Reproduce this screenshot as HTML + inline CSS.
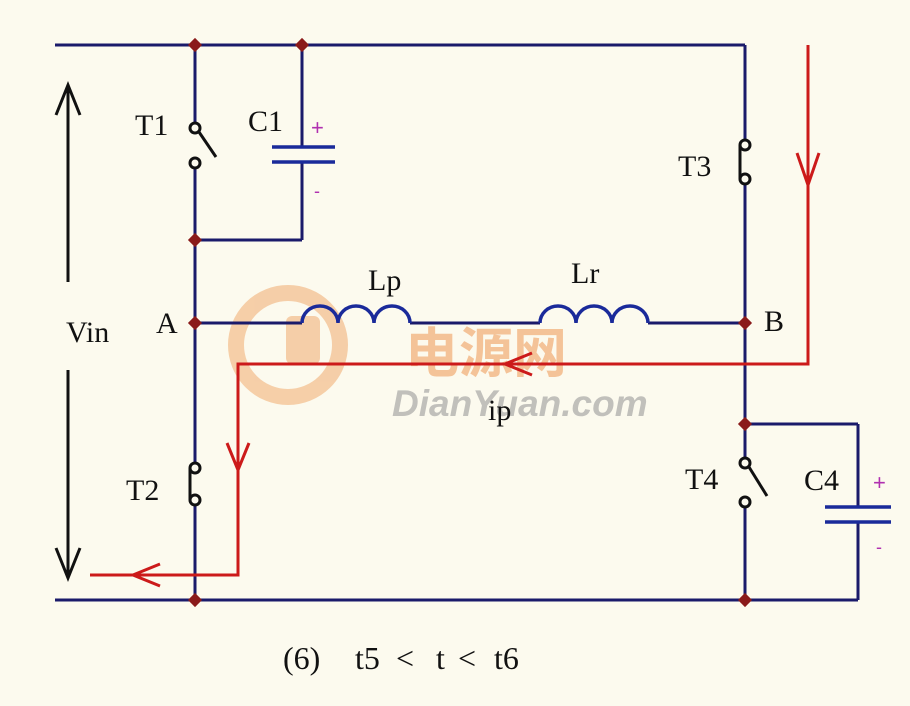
<!DOCTYPE html>
<html><head><meta charset="utf-8"><style>
html,body{margin:0;padding:0;background:#fcfaee;}
svg{display:block}
</style></head><body>
<svg width="910" height="706" viewBox="0 0 910 706" xmlns="http://www.w3.org/2000/svg">
<rect width="910" height="706" fill="#fcfaee"/>
<!-- watermark -->
<g opacity="0.6">
<circle cx="288" cy="345" r="52" fill="none" stroke="#f2b27a" stroke-width="16"/>
<rect x="286" y="316" width="34" height="48" rx="6" fill="#f2b27a"/>
<text x="405" y="372" font-family="'Noto Sans CJK SC',sans-serif" font-weight="bold" font-size="54" fill="#f0a060">电源网</text>
<text x="392" y="416" font-family="'Liberation Sans',sans-serif" font-weight="bold" font-style="italic" font-size="37" fill="#9a9a9a">DianYuan.com</text>
</g>
<g stroke="#1a1a6a" stroke-width="3" fill="none">
<line x1="55" y1="45" x2="745" y2="45"/>
<line x1="55" y1="600" x2="858" y2="600"/>
<line x1="195" y1="45" x2="195" y2="123"/>
<line x1="195" y1="168" x2="195" y2="463"/>
<line x1="195" y1="505" x2="195" y2="600"/>
<line x1="302" y1="45" x2="302" y2="147"/>
<line x1="302" y1="162" x2="302" y2="240"/>
<line x1="195" y1="240" x2="302" y2="240"/>
<line x1="745" y1="45" x2="745" y2="140"/>
<line x1="745" y1="184" x2="745" y2="458"/>
<line x1="745" y1="507" x2="745" y2="600"/>
<line x1="745" y1="424" x2="858" y2="424"/>
<line x1="858" y1="424" x2="858" y2="507"/>
<line x1="858" y1="522" x2="858" y2="600"/>
<line x1="195" y1="323" x2="302" y2="323"/>
<line x1="410" y1="323" x2="540" y2="323"/>
<line x1="648" y1="323" x2="745" y2="323"/>
</g>
<g stroke="#111" stroke-width="3" fill="none">
<circle cx="195" cy="128" r="5"/><circle cx="195" cy="163" r="5"/>
<line x1="199" y1="132" x2="216" y2="157"/>
<circle cx="745" cy="145" r="5"/><circle cx="745" cy="179" r="5"/>
<line x1="740" y1="145" x2="740" y2="179"/>
<circle cx="195" cy="468" r="5"/><circle cx="195" cy="500" r="5"/>
<line x1="190" y1="468" x2="190" y2="500"/>
<circle cx="745" cy="463" r="5"/><circle cx="745" cy="502" r="5"/>
<line x1="749" y1="467" x2="767" y2="496"/>
</g>
<g stroke="#1a2a9a" stroke-width="3.5">
<line x1="272" y1="147" x2="335" y2="147"/><line x1="272" y1="162" x2="335" y2="162"/>
<line x1="825" y1="507" x2="891" y2="507"/><line x1="825" y1="522" x2="891" y2="522"/>
</g>
<g stroke="#1a2a9a" stroke-width="3.5" fill="none">
<path d="M302 323 A18 17 0 0 1 338 323 A18 17 0 0 1 374 323 A18 17 0 0 1 410 323"/>
<path d="M540 323 A18 17 0 0 1 576 323 A18 17 0 0 1 612 323 A18 17 0 0 1 648 323"/>
</g>
<g fill="#8a1a1a">
<rect x="190" y="40" width="10" height="10" transform="rotate(45 195 45)"/>
<rect x="297" y="40" width="10" height="10" transform="rotate(45 302 45)"/>
<rect x="190" y="235" width="10" height="10" transform="rotate(45 195 240)"/>
<rect x="190" y="318" width="10" height="10" transform="rotate(45 195 323)"/>
<rect x="740" y="318" width="10" height="10" transform="rotate(45 745 323)"/>
<rect x="740" y="419" width="10" height="10" transform="rotate(45 745 424)"/>
<rect x="190" y="595" width="10" height="10" transform="rotate(45 195 600)"/>
<rect x="740" y="595" width="10" height="10" transform="rotate(45 745 600)"/>
</g>
<g stroke="#cc1a1a" stroke-width="3" fill="none">
<polyline points="808,45 808,364 238,364 238,575 90,575"/>
<polyline points="797,153 808,185 819,153"/>
<polyline points="532,353 505,364 532,375"/>
<polyline points="227,443 238,470 249,443"/>
<polyline points="160,564 133,575 160,586"/>
</g>
<g stroke="#111" stroke-width="3" fill="none">
<line x1="68" y1="88" x2="68" y2="282"/>
<polyline points="56,115 68,85 80,115"/>
<line x1="68" y1="370" x2="68" y2="575"/>
<polyline points="56,548 68,578 80,548"/>
</g>
<g font-family="'Liberation Serif',serif" font-size="30" fill="#111">
<text x="66" y="342">Vin</text>
<text x="135" y="135">T1</text>
<text x="248" y="131">C1</text>
<text x="678" y="176">T3</text>
<text x="368" y="290">Lp</text>
<text x="571" y="283">Lr</text>
<text x="156" y="333">A</text>
<text x="764" y="331">B</text>
<text x="488" y="420">ip</text>
<text x="126" y="500">T2</text>
<text x="685" y="489">T4</text>
<text x="804" y="490">C4</text>
</g>
<g font-family="'Liberation Serif',serif" font-size="32" fill="#111">
<text x="283" y="669">(6)</text>
<text x="355" y="669">t5</text>
<text x="396" y="669">&lt;</text>
<text x="436" y="669">t</text>
<text x="458" y="669">&lt;</text>
<text x="494" y="669">t6</text>
</g>
<g font-family="'Liberation Sans',sans-serif" fill="#b030b0" font-size="22">
<text x="311" y="135">+</text>
<text x="314" y="197" font-size="18">-</text>
<text x="873" y="490">+</text>
<text x="876" y="553" font-size="18">-</text>
</g>
</svg>
</body></html>
